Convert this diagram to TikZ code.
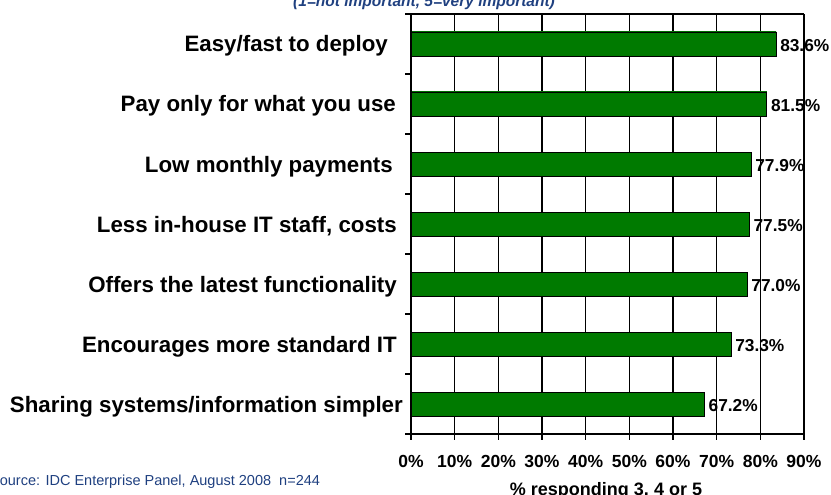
\documentclass[tikz,border=0pt]{standalone}
\usepackage{fontspec}
\setmainfont{Liberation Sans}
\definecolor{idcblue}{RGB}{31,64,128}
\definecolor{barmid}{RGB}{0,122,0}
\definecolor{bardark}{RGB}{0,52,0}
\pgfdeclareverticalshading{barshade}{100bp}{%
  color(0bp)=(bardark); color(28bp)=(barmid); color(72bp)=(barmid); color(100bp)=(bardark)}
\begin{document}
\begin{tikzpicture}[x=1pt,y=-1pt,
  catlabel/.style={anchor=base east, inner sep=0pt, font=\fontsize{22.3}{24}\selectfont\bfseries},
  vallabel/.style={anchor=base west, inner sep=0pt, font=\fontsize{17.3}{19}\selectfont\bfseries},
  pctlabel/.style={anchor=base, inner sep=0pt, font=\fontsize{17.5}{19}\selectfont\bfseries},
  gridrule/.style={line width=1.2pt, black},
  barbox/.style={draw=black, line width=0.8pt, shading=barshade}
]
\useasboundingbox (0,0) rectangle (831,495);
\def\unit{4.366667}% points per percent

% heading (partly above the page edge)
\node[anchor=base, inner sep=0pt, text=idcblue, font=\fontsize{15.5}{17}\selectfont\bfseries\itshape]
  (subtitle) at (424,6.5) {(1=not important, 5=very important)};

% vertical grid lines, 10% to 90%
\foreach \p in {10,20,...,90}
  \draw[gridrule] ({411+\p*\unit},14) -- ({411+\p*\unit},434);

% bars and value labels
\foreach \i/\v/\t/\xe in {
  1/83.6/{Easy/fast to deploy}/388,
  2/81.5/{Pay only for what you use}/396,
  3/77.9/{Low monthly payments}/393,
  4/77.5/{Less in-house IT staff, costs}/397,
  5/77.0/{Offers the latest functionality}/397,
  6/73.3/{Encourages more standard IT}/397,
  7/67.2/{Sharing systems/information simpler}/403} {
  \pgfmathsetmacro{\yc}{14+60*(\i-0.5)}
  \pgfmathsetmacro{\xb}{411+\v*\unit}
  \path[barbox] (411,\yc-12) rectangle (\xb,\yc+12);
  \node[vallabel] (val\i) at (\xb+4,\yc+7.5) {\v\%};
  \node[catlabel] (cat\i) at (\xe,\yc+8) {\t};
}

% frame and axes
\draw[gridrule] (411,14) -- (804,14);
\draw[gridrule] (411,14) -- (411,434) -- (804,434);
\foreach \k in {0,...,7}
  \draw[gridrule] (405,{14+60*\k}) -- (411,{14+60*\k});
\foreach \p in {0,10,...,90} {
  \draw[gridrule] ({411+\p*\unit},434) -- ({411+\p*\unit},440);
  \node[pctlabel] (pct\p) at ({411+\p*\unit},467) {\p\%};
}

% axis title and source note
\node[anchor=base, inner sep=0pt, font=\fontsize{18}{20}\selectfont\bfseries]
  (axistitle) at (606,495) {\% responding 3, 4 or 5};
\node[anchor=base west, inner sep=0pt, text=idcblue, font=\fontsize{14.5}{16}\selectfont]
  (source) at (-10,485.5) {Source: IDC Enterprise Panel, August 2008~~n=244};
\end{tikzpicture}
\end{document}
